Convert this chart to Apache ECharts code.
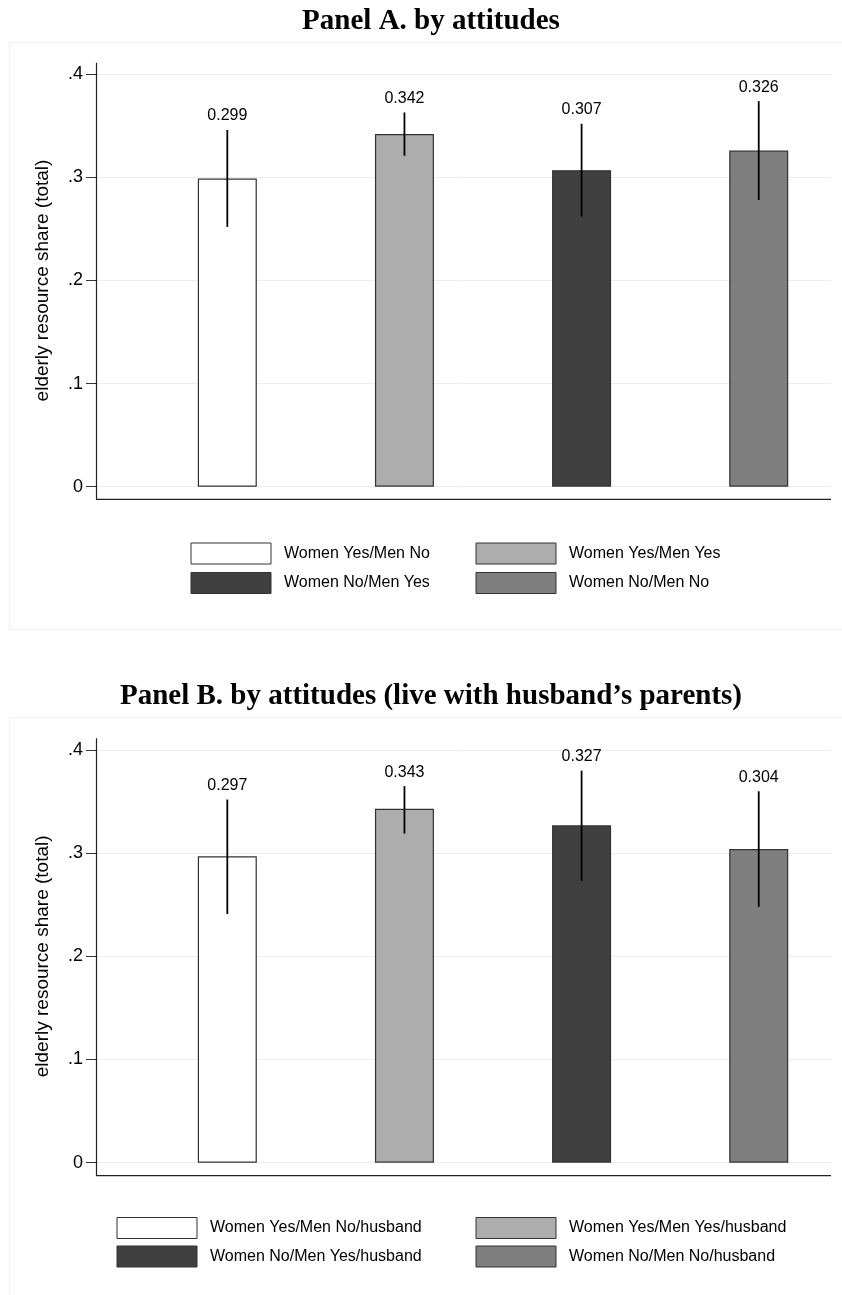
<!DOCTYPE html>
<html>
<head>
<meta charset="utf-8">
<title>Elderly resource share by attitudes</title>
<script src="https://cdn.jsdelivr.net/npm/echarts@6/dist/echarts.min.js"></script>
<style>
  html, body { margin: 0; padding: 0; background: #ffffff; }
  #main { width: 842px; height: 1295px; }
</style>
</head>
<body>
<div id="main"></div>
<script>
// Panel A: attitude groups
const categoriesA = ['Women Yes/Men No', 'Women Yes/Men Yes', 'Women No/Men Yes', 'Women No/Men No'];
const valuesA = [0.299, 0.342, 0.307, 0.326];
const ciLowA = [0.252, 0.321, 0.262, 0.278];
const ciHighA = [0.346, 0.363, 0.352, 0.374];

// Panel B: attitude groups, living with husband's parents
const categoriesB = ['Women Yes/Men No/husband', 'Women Yes/Men Yes/husband', 'Women No/Men Yes/husband', 'Women No/Men No/husband'];
const valuesB = [0.297, 0.343, 0.327, 0.304];
const ciLowB = [0.241, 0.319, 0.273, 0.248];
const ciHighB = [0.352, 0.365, 0.380, 0.360];

const yTickLabels = ['0', '.1', '.2', '.3', '.4'];
const panelTitles = ['Panel A. by attitudes', 'Panel B. by attitudes (live with husband\u2019s parents)'];
const yTitle = 'elderly resource share (total)';

const barColors = ['#ffffff', '#adadad', '#404040', '#7f7f7f'];
const SANS = '"Liberation Sans", Arial, Helvetica, sans-serif';
const SERIF = '"Liberation Serif", "Times New Roman", serif';

const panels = [
  { cats: categoriesA, vals: valuesA, lo: ciLowA, hi: ciHighA,
    gridTop: 74.3, gridHeight: 412.4, axisTop: 62.7, axisBottom: 499.3,
    titleY: 22, boxTop: 42.5, boxBottom: 629.5,
    legendX: [190.5, 475.5], legendY: [542.5, 572] },
  { cats: categoriesB, vals: valuesB, lo: ciLowB, hi: ciHighB,
    gridTop: 750, gridHeight: 412.7, axisTop: 738.3, axisBottom: 1175.7,
    titleY: 697, boxTop: 717.5, boxBottom: 1320,
    legendX: [116.5, 475.5], legendY: [1217, 1245.5] }
];

const GRID_LEFT = 96;
const GRID_WIDTH = 735;

const grid = [], xAxis = [], yAxis = [], series = [], legend = [], graphic = [];

panels.forEach((p, k) => {
  grid.push({ left: GRID_LEFT, width: GRID_WIDTH, top: p.gridTop, height: p.gridHeight, containLabel: false });

  xAxis.push({ type: 'value', gridIndex: k, min: 0.2587, max: 4.408, show: false });

  yAxis.push({
    type: 'value', gridIndex: k, min: 0, max: 0.4, interval: 0.1,
    axisLine: { show: false },
    axisTick: { show: true, length: 10, lineStyle: { color: '#333', width: 1 } },
    axisLabel: {
      color: '#000', fontSize: 18, fontFamily: SANS, margin: 13,
      formatter: v => yTickLabels[Math.round(v * 10)]
    },
    splitLine: { show: true, lineStyle: { color: '#e8eef2', width: 1 } },
    name: yTitle, nameLocation: 'middle', nameGap: 44,
    nameTextStyle: { color: '#000', fontSize: 19, fontFamily: SANS }
  });

  // one bar series per group so each gets its own legend key
  p.cats.forEach((name, i) => {
    series.push({
      type: 'bar', name, xAxisIndex: k, yAxisIndex: k,
      data: [[i + 1, p.vals[i]]],
      barWidth: 59, barGap: '-100%',
      itemStyle: { color: barColors[i], borderColor: '#333', borderWidth: 1.2 },
      emphasis: { disabled: true },
      z: 2
    });
  });

  // confidence intervals with value labels above them
  series.push({
    type: 'custom', name: 'ci' + k, xAxisIndex: k, yAxisIndex: k,
    data: p.cats.map((_, i) => [i + 1, p.lo[i], p.hi[i], p.vals[i]]),
    encode: { x: 0, y: [1, 2] },
    z: 5,
    renderItem: (params, api) => {
      const x = api.value(0);
      const top = api.coord([x, api.value(2)]);
      const bot = api.coord([x, api.value(1)]);
      return {
        type: 'group',
        children: [
          { type: 'line', shape: { x1: top[0], y1: top[1], x2: bot[0], y2: bot[1] },
            style: { stroke: '#000', lineWidth: 1.8 } },
          { type: 'text', x: top[0], y: top[1] - 14,
            style: { text: api.value(3).toFixed(3), fill: '#000', fontSize: 16, fontFamily: SANS,
                     align: 'center', verticalAlign: 'middle' } }
        ]
      };
    }
  });

  // 2 x 2 legend keys
  p.cats.forEach((name, i) => {
    legend.push({
      data: [name],
      left: p.legendX[i % 2], top: p.legendY[Math.floor(i / 2)],
      padding: 0, itemGap: 0, itemWidth: 80, itemHeight: 21,
      selectedMode: false, icon: 'rect',
      itemStyle: { borderWidth: 1, borderColor: '#333' },
      textStyle: { color: '#000', fontSize: 16, fontFamily: SANS, padding: [0, 0, 0, 8] }
    });
  });

  // panel frame
  graphic.push({
    type: 'rect', silent: true, z: -1,
    shape: { x: 9.5, y: p.boxTop, width: 850, height: p.boxBottom - p.boxTop },
    style: { fill: 'none', stroke: '#edf1f4', lineWidth: 1 }
  });
  // axis lines
  graphic.push({
    type: 'line', silent: true, z: 10,
    shape: { x1: GRID_LEFT + 0.5, y1: p.axisTop, x2: GRID_LEFT + 0.5, y2: p.axisBottom },
    style: { stroke: '#222', lineWidth: 1.2 }
  });
  graphic.push({
    type: 'line', silent: true, z: 10,
    shape: { x1: GRID_LEFT, y1: p.axisBottom, x2: GRID_LEFT + GRID_WIDTH, y2: p.axisBottom },
    style: { stroke: '#222', lineWidth: 1.2 }
  });
  // panel title
  graphic.push({
    type: 'text', silent: true, x: 431, y: p.titleY,
    style: { text: panelTitles[k], fill: '#000', fontSize: 29, fontWeight: 'bold', fontFamily: SERIF,
             align: 'center', verticalAlign: 'middle' }
  });
});

const chart = echarts.init(document.getElementById('main'), null, { renderer: 'canvas' });
chart.setOption({
  backgroundColor: '#ffffff',
  animation: false,
  grid, xAxis, yAxis, series, legend, graphic
});
</script>
</body>
</html>
